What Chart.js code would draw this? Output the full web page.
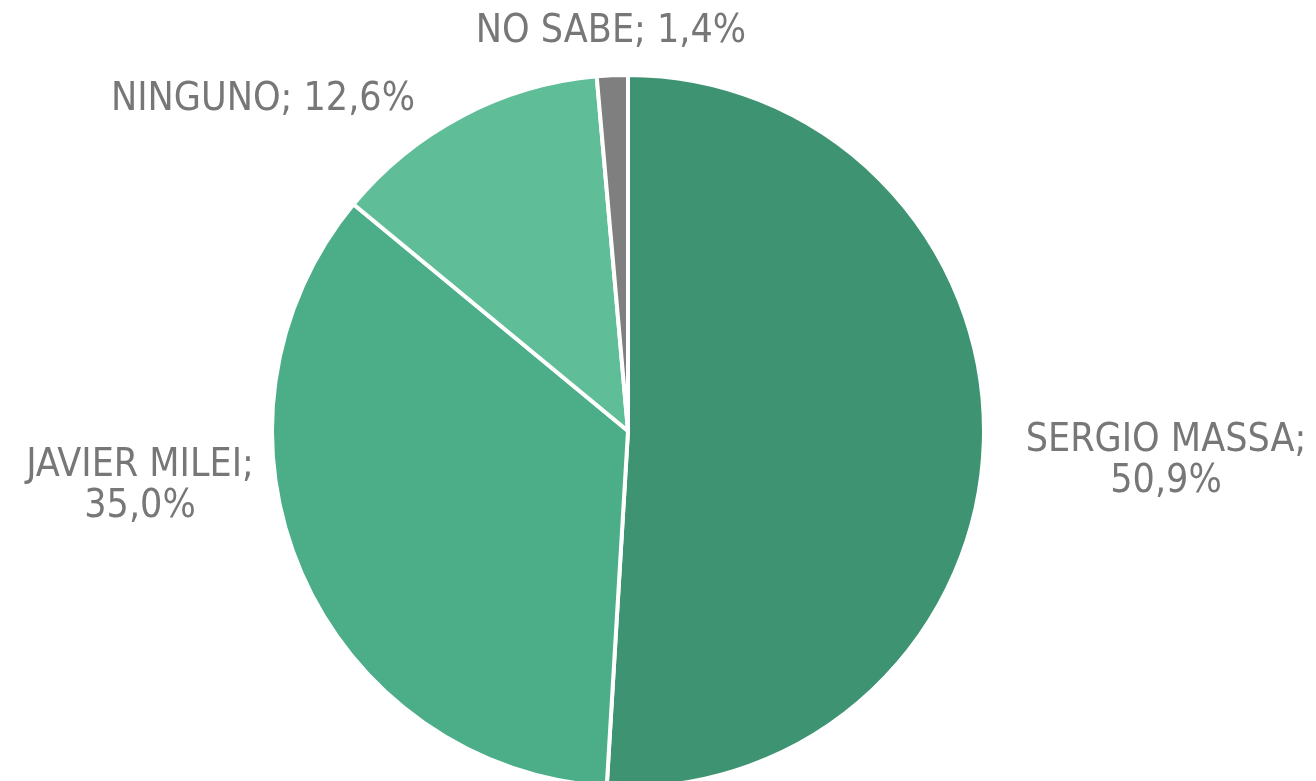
<!DOCTYPE html>
<html>
<head>
<meta charset="utf-8">
<script src="https://cdn.jsdelivr.net/npm/chart.js@4"></script>
<style>
  html, body { margin: 0; padding: 0; background: #fff; overflow: hidden; }
  #wrap { width: 1316px; height: 800px; }
</style>
</head>
<body>
<div id="wrap"><canvas id="pie"></canvas></div>
<script>
const labels = ['SERGIO MASSA', 'JAVIER MILEI', 'NINGUNO', 'NO SABE'];
const values = [50.9, 35.0, 12.6, 1.4];
const sliceColors = ['#3e9372', '#4bae88', '#5fbd98', '#7f7f7f'];

// where each label goes (center x, baseline of first line), and whether it wraps
const labelSpots = [
    { x: 1166, y: 451, wrap: true },
    { x: 140, y: 476, wrap: true },
    { x: 263, y: 110, wrap: false },
    { x: 611, y: 42, wrap: false }
];

function fmt(v) {
    return v.toFixed(1).replace('.', ',') + '%';
}

const outsideLabels = {
    id: 'outsideLabels',
    afterDraw(chart) {
        const ctx = chart.ctx;
        ctx.save();
        ctx.fillStyle = '#777777';
        ctx.font = '39px "DejaVu Sans Condensed", "Roboto", sans-serif';
        ctx.textAlign = 'center';
        ctx.textBaseline = 'alphabetic';
        labels.forEach((name, i) => {
            const spot = labelSpots[i];
            if (spot.wrap) {
                ctx.fillText(name + ';', spot.x, spot.y);
                ctx.fillText(fmt(values[i]), spot.x, spot.y + 41);
            } else {
                ctx.fillText(name + '; ' + fmt(values[i]), spot.x, spot.y);
            }
        });
        ctx.restore();
    }
};

new Chart(document.getElementById('pie'), {
    type: 'pie',
    data: {
        labels,
        datasets: [{
            data: values,
            backgroundColor: sliceColors,
            borderColor: '#ffffff',
            borderWidth: 4
        }]
    },
    options: {
        responsive: true,
        maintainAspectRatio: false,
        animation: false,
        layout: {
            padding: { left: 270, right: 330, top: 73, bottom: 11 }
        },
        plugins: {
            legend: { display: false },
            tooltip: { enabled: false }
        }
    },
    plugins: [outsideLabels]
});
</script>
</body>
</html>
